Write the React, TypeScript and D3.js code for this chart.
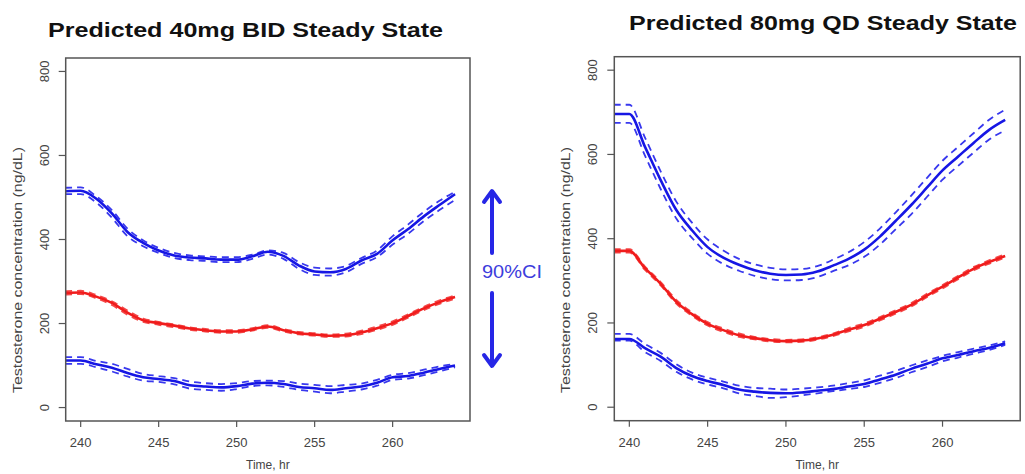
import React from "react";
import * as d3 from "d3";

// hourly time grid (hr)
const hours = [239, 240, 241, 242, 243, 244, 245, 246, 247, 248, 249, 250, 251, 252, 253, 254, 255, 256, 257, 258, 259, 260, 261, 262, 263, 264];
const xTicks = [240, 245, 250, 255, 260];
const yTicks = [0, 200, 400, 600, 800];

// 40mg BID: upper blue, median red, lower blue (mid / upper CI / lower CI)
const bidUpper = [515, 516, 497, 462, 418, 392, 374, 362, 357, 355, 352, 352, 360, 371, 361, 338, 324, 322, 330, 350, 366, 398, 425, 455, 482, 508];
const bidUpperHi = [523, 524, 503, 470, 426, 398, 380, 368, 362, 360, 358, 358, 364, 374, 368, 346, 333, 331, 337, 356, 374, 408, 436, 466, 492, 514];
const bidUpperLo = [508, 508, 488, 452, 408, 384, 368, 356, 351, 349, 346, 346, 354, 364, 354, 330, 316, 314, 322, 342, 358, 388, 414, 444, 470, 494];

const bidMedian = [273, 274, 264, 249, 226, 208, 201, 195, 188, 184, 181, 181, 186, 193, 184, 177, 174, 171, 172, 179, 189, 201, 218, 236, 251, 263];
const bidMedianHi = [277, 278, 268, 253, 231, 212, 204, 198, 191, 187, 184, 184, 189, 196, 187, 180, 177, 174, 176, 183, 193, 205, 222, 240, 255, 267];
const bidMedianLo = [269, 270, 260, 244, 221, 204, 197, 191, 185, 181, 178, 178, 183, 190, 181, 174, 171, 168, 169, 175, 185, 197, 214, 232, 247, 259];

const bidLower = [112, 112, 103, 95, 82, 72, 68, 63, 53, 50, 48, 51, 57, 59, 56, 49, 46, 42, 46, 50, 59, 72, 75, 83, 92, 100];
const bidLowerHi = [120, 120, 111, 104, 92, 80, 75, 70, 62, 58, 56, 58, 63, 64, 63, 57, 54, 51, 54, 57, 66, 78, 82, 90, 98, 104];
const bidLowerLo = [104, 104, 96, 86, 74, 64, 61, 55, 45, 42, 40, 44, 51, 53, 49, 42, 38, 34, 38, 43, 52, 66, 69, 77, 86, 96];

// 80mg QD
const qdUpper = [696, 696, 618, 539, 468, 420, 380, 355, 338, 325, 317, 314, 315, 322, 336, 352, 374, 405, 442, 480, 521, 562, 595, 628, 659, 682];
const qdUpperHi = [718, 718, 640, 560, 488, 438, 398, 372, 352, 339, 331, 327, 328, 335, 350, 368, 392, 424, 462, 502, 544, 585, 618, 651, 683, 706];
const qdUpperLo = [675, 675, 597, 518, 448, 402, 364, 340, 324, 312, 304, 301, 302, 309, 323, 337, 357, 386, 422, 458, 499, 540, 573, 605, 636, 657];

const qdMedian = [371, 371, 330, 293, 250, 221, 198, 183, 171, 164, 159, 157, 158, 163, 172, 184, 195, 210, 226, 243, 265, 286, 308, 329, 345, 359];
const qdMedianHi = [375, 375, 334, 297, 255, 225, 202, 187, 175, 167, 162, 160, 161, 166, 175, 188, 199, 214, 230, 247, 269, 290, 312, 333, 349, 363];
const qdMedianLo = [367, 367, 326, 289, 246, 217, 194, 179, 167, 161, 156, 154, 155, 160, 169, 180, 191, 206, 222, 239, 261, 282, 304, 325, 341, 355];

const qdLower = [162, 162, 140, 120, 93, 74, 62, 53, 42, 37, 34, 33, 35, 39, 43, 49, 55, 66, 77, 91, 103, 116, 124, 133, 141, 152];
const qdLowerHi = [174, 174, 150, 129, 102, 82, 70, 61, 51, 46, 44, 42, 44, 47, 51, 57, 64, 75, 86, 99, 111, 122, 131, 139, 147, 156];
const qdLowerLo = [158, 158, 131, 110, 84, 66, 54, 45, 33, 27, 22, 24, 28, 33, 38, 43, 48, 58, 69, 83, 95, 109, 118, 127, 136, 148];

const BLUE = "#1616e4";
const BLUE_DASH = "#3838ee";
const RED = "#f01c1c";
const RED_DASH = "#f44848";
const AXIS = "#555";

type Band = { mid: number[]; hi: number[]; lo: number[]; color: string; dash: string };

const bidBands: Band[] = [
  { mid: bidUpper, hi: bidUpperHi, lo: bidUpperLo, color: BLUE, dash: BLUE_DASH },
  { mid: bidMedian, hi: bidMedianHi, lo: bidMedianLo, color: RED, dash: RED_DASH },
  { mid: bidLower, hi: bidLowerHi, lo: bidLowerLo, color: BLUE, dash: BLUE_DASH },
];
const qdBands: Band[] = [
  { mid: qdUpper, hi: qdUpperHi, lo: qdUpperLo, color: BLUE, dash: BLUE_DASH },
  { mid: qdMedian, hi: qdMedianHi, lo: qdMedianLo, color: RED, dash: RED_DASH },
  { mid: qdLower, hi: qdLowerHi, lo: qdLowerLo, color: BLUE, dash: BLUE_DASH },
];

const Panel = ({ id, left, right, top, bottom, title, titleX, titleY, titleW, bands }: any) => {
  // R style 4% expansion of xlim [240,264] and ylim [0,800]
  const x = d3.scaleLinear().domain([239.04, 264.96]).range([left, right]);
  const y = d3.scaleLinear().domain([-32, 832]).range([bottom, top]);
  const line = (vals: number[]) =>
    d3
      .line<number>()
      .x((d, i) => x(hours[i]))
      .y((d) => y(d))
      .curve(d3.curveMonotoneX)(vals) || "";
  const midY = 270;
  return (
    <g>
      <defs>
        <clipPath id={id}>
          <rect x={left} y={top} width={right - left} height={bottom - top} />
        </clipPath>
      </defs>
      <text
        x={titleX}
        y={titleY}
        fontFamily="Liberation Sans, Arial, sans-serif"
        fontWeight="bold"
        fontSize={21}
        textLength={titleW}
        lengthAdjust="spacingAndGlyphs"
        fill="#111"
      >
        {title}
      </text>
      <g clipPath={`url(#${id})`}>
        {bands.map((b: Band, i: number) => (
          <g key={i}>
            <path d={line(b.hi)} fill="none" stroke={b.dash} strokeWidth={1.8} strokeDasharray="7,5" />
            <path d={line(b.lo)} fill="none" stroke={b.dash} strokeWidth={1.8} strokeDasharray="7,5" />
            <path d={line(b.mid)} fill="none" stroke={b.color} strokeWidth={2.6} />
          </g>
        ))}
      </g>
      <rect x={left} y={top} width={right - left} height={bottom - top} fill="none" stroke={AXIS} strokeWidth={1.5} />
      {xTicks.map((t) => (
        <g key={t}>
          <line x1={x(t)} x2={x(t)} y1={bottom} y2={bottom + 6} stroke={AXIS} strokeWidth={1.2} />
          <text x={x(t)} y={447} textAnchor="middle" fontFamily="Liberation Sans, Arial, sans-serif" fontSize={13} fill="#444">
            {t}
          </text>
        </g>
      ))}
      {yTicks.map((t) => (
        <g key={t}>
          <line x1={left - 7} x2={left} y1={y(t)} y2={y(t)} stroke={AXIS} strokeWidth={1.2} />
          <text
            transform={`translate(${left - 17},${y(t)}) rotate(-90)`}
            textAnchor="middle"
            fontFamily="Liberation Sans, Arial, sans-serif"
            fontSize={13}
            fill="#444"
          >
            {t}
          </text>
        </g>
      ))}
      <text
        transform={`translate(${left - 44},${midY}) rotate(-90)`}
        textAnchor="middle"
        fontFamily="Liberation Sans, Arial, sans-serif"
        fontSize={12}
        textLength={246}
        lengthAdjust="spacingAndGlyphs"
        fill="#444"
      >
        Testosterone concentration (ng/dL)
      </text>
      <text
        x={(left + right) / 2}
        y={469}
        textAnchor="middle"
        fontFamily="Liberation Sans, Arial, sans-serif"
        fontSize={12}
        fill="#444"
      >
        Time, hr
      </text>
    </g>
  );
};

export default function App() {
  const ax = 492;
  return (
    <svg width={1025} height={474} style={{ position: "absolute", left: 0, top: 0, background: "#fff" }}>
      <rect width={1025} height={474} fill="#fff" />
      <Panel
        id="clipBid"
        left={65.7}
        right={470}
        top={58}
        bottom={421}
        title="Predicted 40mg BID Steady State"
        titleX={48}
        titleY={37}
        titleW={395}
        bands={bidBands}
      />
      <Panel
        id="clipQd"
        left={614.3}
        right={1020.2}
        top={56.7}
        bottom={420.7}
        title="Predicted 80mg QD Steady State"
        titleX={629}
        titleY={30}
        titleW={388}
        bands={qdBands}
      />
      {/* 90% CI annotation */}
      <g stroke="#2626e6" strokeWidth={4} fill="none" strokeLinecap="round" strokeLinejoin="round">
        <line x1={ax} x2={ax} y1={253} y2={192} />
        <polyline points={`${ax - 8},${202} ${ax},${191} ${ax + 8},${202}`} />
        <line x1={ax} x2={ax} y1={293} y2={365} />
        <polyline points={`${ax - 8},${355} ${ax},${366} ${ax + 8},${355}`} />
      </g>
      <text
        x={512}
        y={278}
        textAnchor="middle"
        fontFamily="Liberation Sans, Arial, sans-serif"
        fontSize={18}
        textLength={60}
        lengthAdjust="spacingAndGlyphs"
        fill="#3c3cdc"
      >
        90%CI
      </text>
    </svg>
  );
}
